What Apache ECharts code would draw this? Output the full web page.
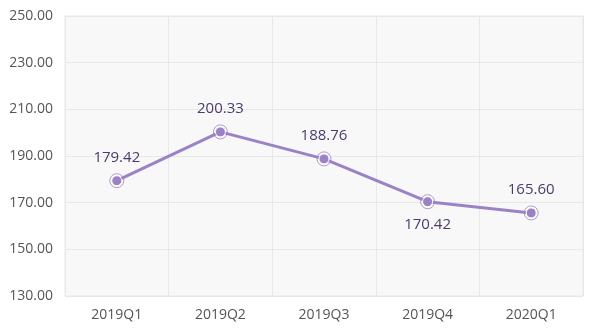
<!DOCTYPE html>
<html>
<head>
<meta charset="utf-8">
<script src="https://cdn.jsdelivr.net/npm/echarts@6/dist/echarts.min.js"></script>
<style>
  html, body { margin: 0; padding: 0; background: #fff; }
  #chart { width: 596px; height: 334px; }
</style>
</head>
<body>
<div id="chart"></div>
<script>
// Quarterly values
const categories = ['2019Q1', '2019Q2', '2019Q3', '2019Q4', '2020Q1'];
const values = [179.42, 200.33, 188.76, 170.42, 165.60];
const labelPositions = ['top', 'top', 'top', 'bottom', 'top'];

const lineColor = '#9b82c6';
const fontFamily = '"Open Sans", "Noto Sans", sans-serif';

const chart = echarts.init(document.getElementById('chart'));

chart.setOption({
  animation: false,
  grid: {
    left: 65, right: 13, top: 16, bottom: 38,
    show: true,
    backgroundColor: '#f8f8f8',
    borderColor: '#e8e8e8',
    borderWidth: 1
  },
  xAxis: {
    type: 'category',
    data: categories,
    boundaryGap: true,
    axisLine: { show: false },
    axisTick: { show: false },
    axisLabel: { color: '#555', fontSize: 14, fontFamily, margin: 12 },
    splitLine: { show: true, lineStyle: { color: '#e8e8e8' } }
  },
  yAxis: {
    type: 'value',
    min: 130, max: 250, interval: 20,
    axisLine: { show: false },
    axisTick: { show: false },
    axisLabel: {
      color: '#555', fontSize: 14, fontFamily, margin: 12,
      formatter: v => v.toFixed(2)
    },
    splitLine: { lineStyle: { color: '#e8e8e8' } }
  },
  series: [
    {
      // thin outer ring around each point, drawn beneath the line's own dots
      type: 'scatter',
      data: values,
      symbol: 'circle',
      symbolSize: 14,
      itemStyle: { color: '#fff', borderColor: lineColor, borderWidth: 1 },
      silent: true,
      z: 2
    },
    {
      type: 'line',
      data: values.map((v, i) => ({
        value: v,
        label: { position: labelPositions[i] }
      })),
      symbol: 'circle',
      symbolSize: 10,
      lineStyle: { color: lineColor, width: 3 },
      itemStyle: { color: lineColor, borderColor: '#fff', borderWidth: 1 },
      label: {
        show: true,
        distance: 10,
        color: '#4b3a6e',
        fontSize: 15,
        fontFamily,
        formatter: p => p.value.toFixed(2)
      },
      z: 3
    }
  ]
});
</script>
</body>
</html>
